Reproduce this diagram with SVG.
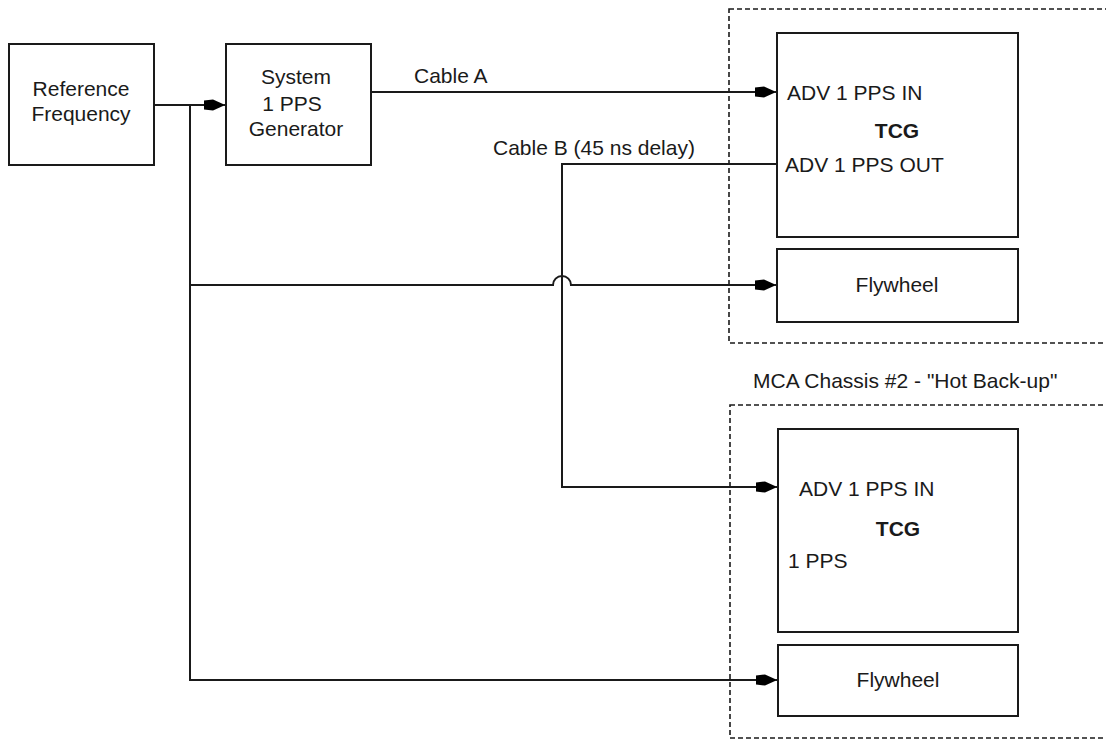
<svg xmlns="http://www.w3.org/2000/svg" width="1106" height="740" viewBox="0 0 1106 740">
<style>
.box{fill:#fff;stroke:#1a1a1a;stroke-width:2}
.dash{fill:none;stroke:#1a1a1a;stroke-width:1.6;stroke-dasharray:5,3}
.wire{fill:none;stroke:#1a1a1a;stroke-width:2}
text{font-family:"Liberation Sans",Arial,sans-serif;font-size:21px;fill:#1a1a1a}
.c{text-anchor:middle}
.b{font-weight:bold}
</style>
<defs>
<marker id="arr" markerUnits="userSpaceOnUse" markerWidth="24" markerHeight="14" refX="22" refY="7" orient="auto" overflow="visible">
<path d="M0,2.5 L9,1.5 L19,6 L19,8 L9,12.5 L0,11.5 Z" fill="#000"/>
</marker>
</defs>
<rect class="dash" x="729" y="9" width="400" height="334"/>
<g id="chassis2">
<rect class="dash" x="730" y="405" width="400" height="333"/>
<text x="753" y="388">MCA Chassis #2 - "Hot Back-up"</text>
</g>
<g id="refFreq">
<rect class="box" x="9" y="44" width="145" height="121"/>
<text class="c" x="81" y="96">Reference</text>
<text class="c" x="81" y="121">Frequency</text>
</g>
<g id="sysGen">
<rect class="box" x="226" y="44" width="145" height="121"/>
<text class="c" x="296" y="84">System</text>
<text class="c" x="292" y="111">1 PPS</text>
<text class="c" x="296" y="136">Generator</text>
</g>
<g id="tcg1">
<rect class="box" x="777" y="33" width="241" height="204"/>
<text x="787" y="100">ADV 1 PPS IN</text>
<text class="c b" x="897" y="138">TCG</text>
<text x="785" y="172">ADV 1 PPS OUT</text>
</g>
<g id="fly1">
<rect class="box" x="777" y="249" width="241" height="73"/>
<text class="c" x="897" y="292">Flywheel</text>
</g>
<g id="tcg2">
<rect class="box" x="778" y="429" width="240" height="203"/>
<text x="799" y="496">ADV 1 PPS IN</text>
<text class="c b" x="898" y="536">TCG</text>
<text x="788" y="568">1 PPS</text>
</g>
<g id="fly2">
<rect class="box" x="778" y="645" width="240" height="71"/>
<text class="c" x="898" y="687">Flywheel</text>
</g>
<g id="connectors">
<path class="wire" d="M154,105 L226,105" marker-end="url(#arr)"/>
<path class="wire" d="M190,105 L190,680 L778,680" marker-end="url(#arr)"/>
<path class="wire" d="M190,285 L553,285 A9,9 0 0 1 571,285 L777,285" marker-end="url(#arr)"/>
<path class="wire" d="M371,92 L777,92" marker-end="url(#arr)"/>
<text x="414" y="83">Cable A</text>
<path class="wire" d="M777,164 L562,164 L562,487 L778,487" marker-end="url(#arr)"/>
<text x="493" y="155">Cable B (45 ns delay)</text>
</g>
</svg>
